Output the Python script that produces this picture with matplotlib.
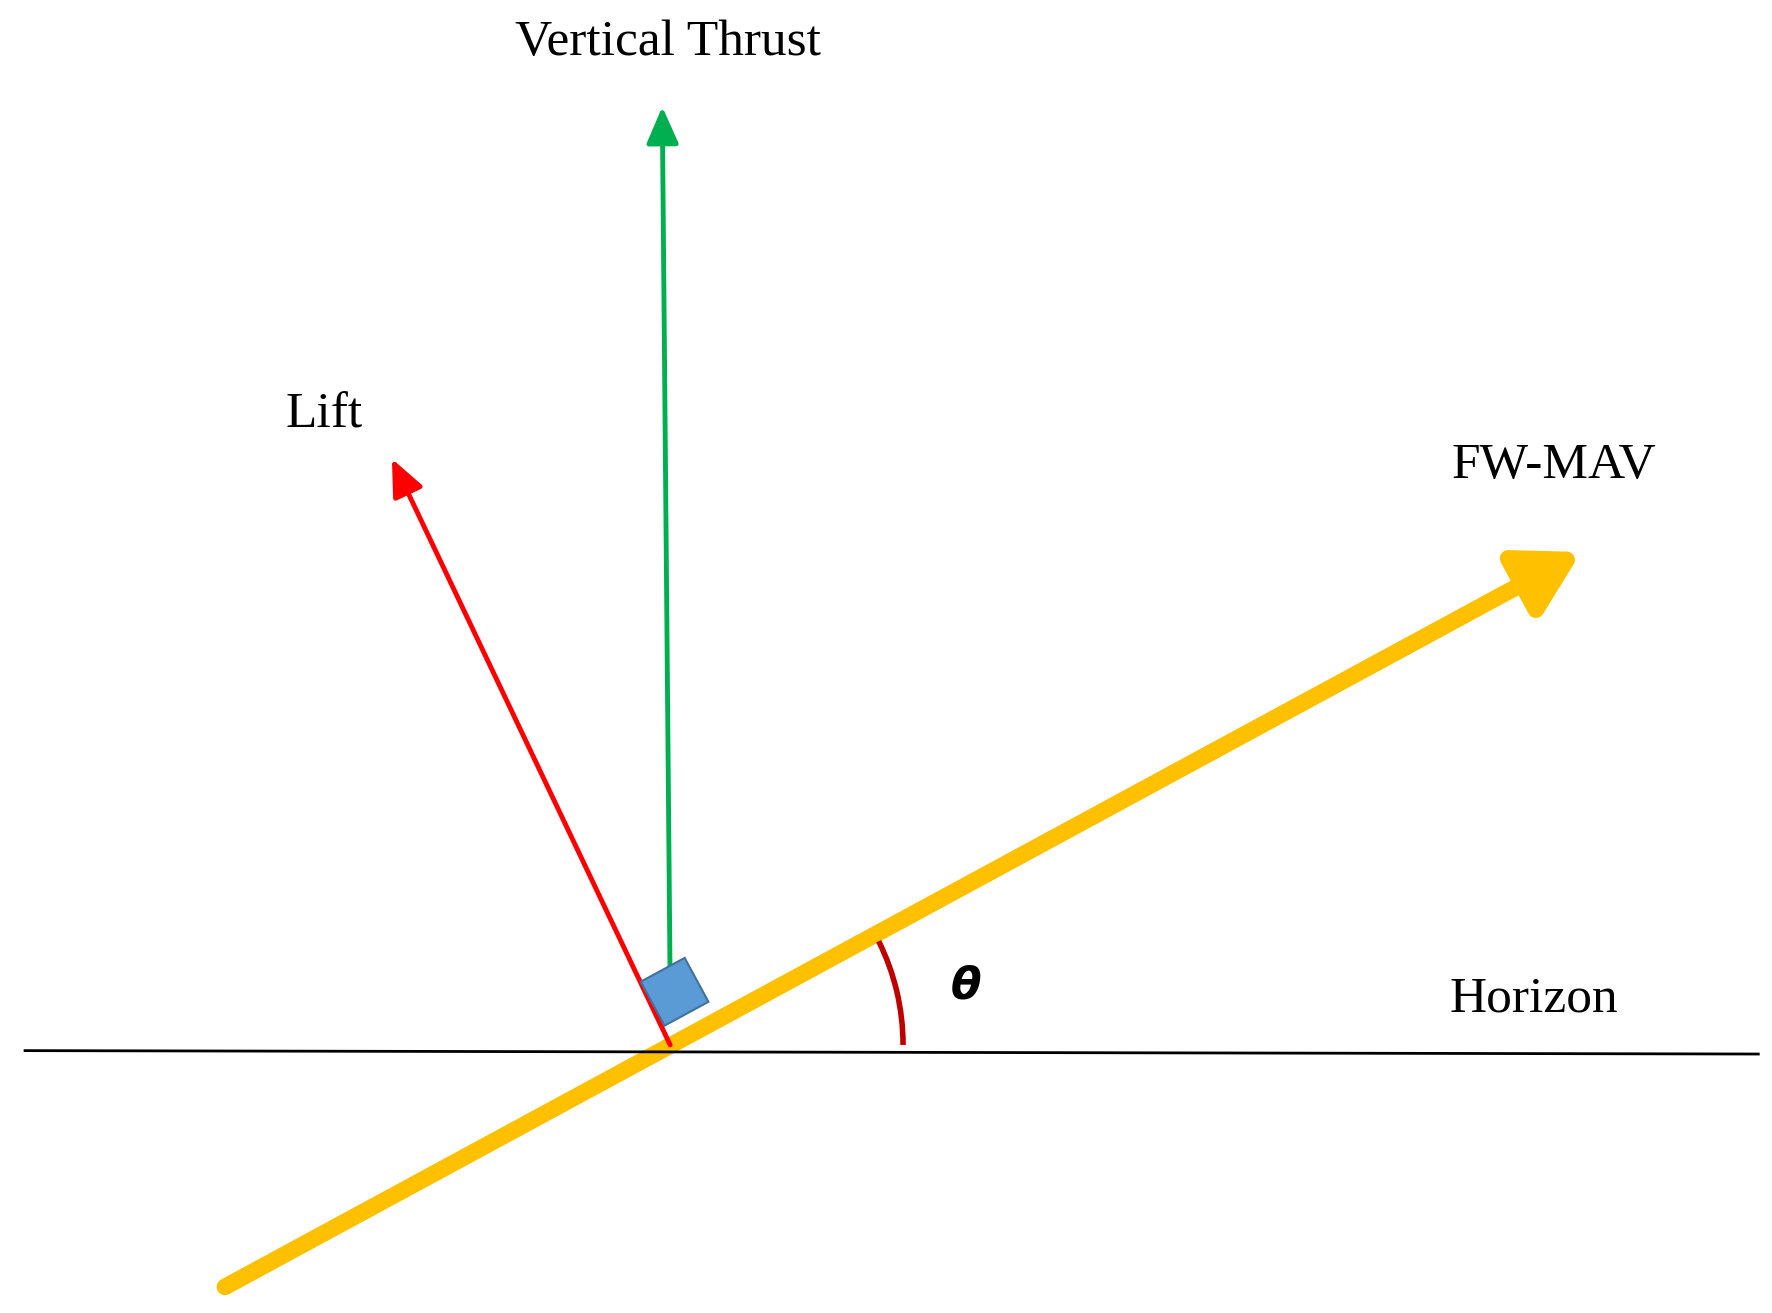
import matplotlib
matplotlib.use("Agg")
import matplotlib.pyplot as plt
import numpy as np
from matplotlib.patches import Polygon, Arc, FancyArrowPatch

W, H = 1560, 1156
origin = (590, 920)
horizon = [(22, 925), (1548, 928)]
yellow = [(198, 1133), (1392, 486)]
red = [(590, 920), (345, 404)]
green = [(590, 872), (583, 94)]
labels = ["Vertical Thrust", "Lift", "FW-MAV", "Horizon"]
label_pos = [(588, 38), (285, 366), (1368, 410), (1350, 880)]

fig = plt.figure(figsize=(17.72, 13.13), dpi=100)
ax = fig.add_axes([0, 0, 1, 1])
ax.set_xlim(0, W); ax.set_ylim(H, 0); ax.set_aspect('equal'); ax.axis('off')

ax.plot(*zip(*horizon), color='black', lw=2)
ax.add_patch(FancyArrowPatch(yellow[0], yellow[1], arrowstyle='-|>,head_length=2.6,head_width=1.5',
                             mutation_scale=14, color='#FFC000', lw=12, shrinkA=0, shrinkB=0))
ax.add_patch(FancyArrowPatch(red[0], red[1], arrowstyle='-|>,head_length=1.6,head_width=0.7',
                             mutation_scale=14, color='#FF0000', lw=3.5, shrinkA=0, shrinkB=0))
ax.add_patch(FancyArrowPatch(green[0], green[1], arrowstyle='-|>,head_length=1.6,head_width=0.7',
                             mutation_scale=14, color='#00B050', lw=3.5, shrinkA=0, shrinkB=0))
u = np.array(yellow[1]) - np.array(yellow[0]); u = u / np.linalg.norm(u)
p = np.array([u[1], -u[0]])
o = np.array([585, 903]); s = 44
ax.add_patch(Polygon([o, o + s*u, o + s*u + s*p, o + s*p], closed=True,
                     facecolor='#5B9BD5', edgecolor='#41719C', lw=1.5, zorder=5))
ang = np.degrees(np.arctan2(-u[1], u[0]))
ax.add_patch(Arc(origin, 410, 410, theta1=-ang + 2, theta2=0, color='#C00000', lw=4))

for t, (x, y) in zip(labels, label_pos):
    ax.text(x, y, t, ha='center', va='center', fontsize=37, family='Liberation Serif')
ax.text(850, 868, r'$\boldsymbol{\theta}$', ha='center', va='center', fontsize=32)
fig.savefig('out.png', dpi=100)
